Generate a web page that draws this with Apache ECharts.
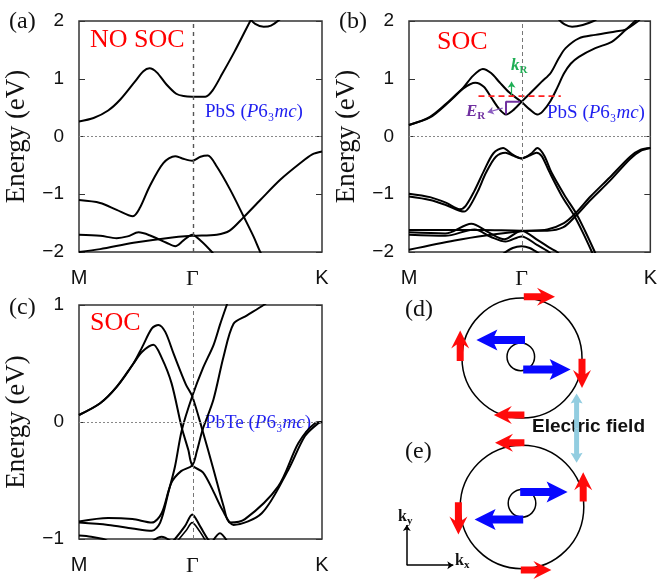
<!DOCTYPE html>
<html lang="en">
<head>
	<meta charset="UTF-8">
	<title>PbS / PbTe bands</title>
	<script src="https://cdn.jsdelivr.net/npm/echarts/dist/echarts.min.js"></script>
	<style>
		html, body { margin: 0; padding: 0; background: #fff; }
	</style>
</head>
<body>
	<div id="bandChart" style="width: 660px; height: 579px;"></div>
	<script type="text/javascript">

		// k path: M - Gamma - K, Gamma sits at 7/15 of the path
		const kStep = 1 / 15;
		const kTicks = [0, 7 / 15, 1];
		const kLabels = ['M', 'Γ', 'K'];

		// (a) PbS, no SOC  [k, E(eV)]
		const a_cb1 = [[0,0.26],[0.06,0.32],[0.12,0.45],[0.17,0.64],[0.23,0.95],[0.265,1.13],[0.29,1.18],[0.32,1.11],[0.36,0.90],[0.40,0.74],[0.43,0.70],[0.466,0.69],[0.52,0.69],[0.55,0.80],[0.59,1.09],[0.64,1.47],[0.705,2.0],[0.72,2.1]];
		const a_cb2 = [[0.70,2.06],[0.725,1.95],[0.76,1.90],[0.79,1.92],[0.83,2.04]];
		const a_vb1 = [[0,-1.10],[0.087,-1.15],[0.155,-1.27],[0.222,-1.38],[0.25,-1.24],[0.29,-0.87],[0.347,-0.46],[0.396,-0.34],[0.425,-0.38],[0.466,-0.42],[0.50,-0.35],[0.53,-0.33],[0.567,-0.52],[0.622,-0.92],[0.677,-1.38],[0.718,-1.73],[0.746,-2.0],[0.76,-2.1]];
		const a_vb2 = [[0,-2.0],[0.087,-1.95],[0.224,-1.84],[0.36,-1.76],[0.466,-1.72],[0.567,-1.70],[0.62,-1.63],[0.677,-1.40],[0.746,-1.10],[0.828,-0.75],[0.911,-0.46],[0.96,-0.31],[1,-0.26]];
		const a_vb3 = [[0,-1.70],[0.087,-1.72],[0.155,-1.76],[0.20,-1.73],[0.245,-1.66],[0.29,-1.71],[0.36,-1.84],[0.396,-1.90],[0.43,-1.80],[0.466,-1.70],[0.50,-1.80],[0.547,-2.0],[0.56,-2.08]];

		// (b) PbS, SOC
		const b_cb1 = [[0,0.20],[0.087,0.33],[0.155,0.56],[0.224,0.84],[0.265,1.05],[0.306,1.17],[0.34,1.10],[0.375,0.94],[0.416,0.76],[0.466,0.60],[0.50,0.47],[0.532,0.38],[0.555,0.44],[0.587,0.62],[0.615,0.85],[0.642,1.09],[0.67,1.26],[0.704,1.38],[0.772,1.53],[0.84,1.64],[0.896,1.84],[0.937,2.0],[0.95,2.06]];
		const b_cb2 = [[0,0.20],[0.087,0.34],[0.155,0.57],[0.224,0.83],[0.275,0.93],[0.31,0.86],[0.34,0.68],[0.375,0.47],[0.402,0.38],[0.43,0.45],[0.466,0.60],[0.50,0.74],[0.55,0.95],[0.587,1.10],[0.62,1.35],[0.649,1.53],[0.704,1.70],[0.772,1.76],[0.855,1.82],[0.897,1.85],[0.95,2.0],[0.96,2.05]];
		const b_cb3 = [[0.62,2.03],[0.645,1.94],[0.676,1.90],[0.72,1.93],[0.765,2.0],[0.78,2.04]];
		const b_vb1 = [[0,-0.99],[0.087,-1.05],[0.155,-1.15],[0.21,-1.26],[0.235,-1.20],[0.27,-0.95],[0.31,-0.60],[0.35,-0.29],[0.39,-0.20],[0.425,-0.30],[0.466,-0.38],[0.505,-0.30],[0.532,-0.20],[0.56,-0.33],[0.59,-0.62],[0.645,-1.02],[0.694,-1.34],[0.73,-1.64],[0.77,-2.0],[0.78,-2.1]];
		const b_vb2 = [[0,-1.04],[0.087,-1.10],[0.155,-1.19],[0.228,-1.30],[0.25,-1.22],[0.285,-0.95],[0.32,-0.62],[0.36,-0.35],[0.40,-0.28],[0.43,-0.33],[0.466,-0.38],[0.50,-0.33],[0.528,-0.28],[0.55,-0.34],[0.58,-0.60],[0.632,-1.02],[0.683,-1.36],[0.72,-1.66],[0.758,-2.0],[0.768,-2.1]];
		const b_vb3 = [[0,-1.96],[0.189,-1.80],[0.326,-1.71],[0.466,-1.64],[0.573,-1.61],[0.642,-1.50],[0.69,-1.33],[0.752,-1.04],[0.834,-0.70],[0.916,-0.35],[0.96,-0.23],[1,-0.20]];
		const b_vb4 = [[0,-1.62],[0.15,-1.62],[0.30,-1.62],[0.466,-1.63],[0.573,-1.63],[0.64,-1.57],[0.69,-1.38],[0.752,-1.10],[0.834,-0.76],[0.916,-0.39],[0.96,-0.25],[1,-0.20]];
		const b_vb5 = [[0,-1.66],[0.15,-1.68],[0.258,-1.51],[0.33,-1.66],[0.395,-1.78],[0.466,-1.63],[0.532,-1.79],[0.58,-1.92],[0.614,-2.0],[0.625,-2.05]];
		const b_vb6 = [[0,-1.70],[0.15,-1.72],[0.272,-1.61],[0.34,-1.74],[0.40,-1.82],[0.466,-1.73],[0.532,-1.88],[0.58,-2.0],[0.59,-2.05]];
		const b_vb7 = [[0.39,-2.03],[0.43,-1.93],[0.466,-1.90],[0.50,-1.93],[0.54,-2.03]];

		// (b) Rashba marks
		const b_fermiCut = [[0.288,0.70],[0.629,0.70]];
		const b_kR = [[0.425,0.72],[0.425,0.95]];
		const b_bracket = [[0.402,0.38],[0.402,0.60],[0.46,0.60]];
		const b_eR = [[0.388,0.49],[0.326,0.42]];

		// (c) PbTe, SOC
		const c_cb1 = [[0,0.06],[0.087,0.16],[0.155,0.30],[0.224,0.50],[0.26,0.64],[0.30,0.80],[0.327,0.83],[0.355,0.77],[0.39,0.58],[0.44,0.32],[0.466,0.22],[0.508,-0.07],[0.554,-0.41],[0.595,-0.72],[0.621,-0.86],[0.683,-0.83],[0.82,-0.55],[0.903,-0.18],[0.971,-0.01],[1,0]];
		const c_cb2 = [[0,0.06],[0.087,0.16],[0.155,0.30],[0.224,0.50],[0.26,0.60],[0.306,0.66],[0.34,0.55],[0.381,0.33],[0.423,-0.05],[0.45,-0.24],[0.466,-0.37],[0.51,-0.43],[0.55,-0.58],[0.59,-0.75],[0.636,-0.88],[0.752,-0.78],[0.861,-0.41],[0.93,-0.12],[0.985,-0.01],[1,0]];
		const c_vb1 = [[0,-0.86],[0.12,-0.88],[0.22,-0.91],[0.30,-0.93],[0.334,-0.86],[0.368,-0.60],[0.395,-0.38],[0.423,-0.07],[0.466,0.22],[0.51,0.46],[0.554,0.66],[0.58,0.83],[0.608,1.0],[0.62,1.07]];
		const c_vb2 = [[0,-0.85],[0.12,-0.82],[0.22,-0.83],[0.30,-0.86],[0.34,-0.78],[0.38,-0.52],[0.42,-0.42],[0.466,-0.37],[0.485,-0.25],[0.508,-0.07],[0.553,0.19],[0.595,0.56],[0.636,0.84],[0.69,0.91],[0.76,1.0],[0.78,1.03]];
		const c_vb3 = [[0.38,-1.03],[0.395,-1.0],[0.436,-0.89],[0.466,-0.79],[0.498,-0.89],[0.53,-1.0],[0.545,-1.03]];
		const c_vb4 = [[0.40,-1.03],[0.44,-0.93],[0.466,-0.86],[0.495,-0.93],[0.525,-1.03]];
		const c_vb5 = [[0,-0.97],[0.05,-0.98],[0.10,-1.0],[0.12,-1.02]];
		const c_vb6 = [[0.30,-1.02],[0.34,-0.98],[0.38,-1.02]];
		const c_vb7 = [[0.55,-1.02],[0.58,-0.95],[0.61,-1.02]];

		// (d)/(e) spin textures, circle radius = 1  [x, y, r]
		const contours = [[0,0,1.0],[0,-2.48,1.03],[-0.02,0.02,0.23],[0,-2.42,0.23]];
		// arrows [x tail, y tail, x tip, y tip]
		const outerSpins = [
			[0.03,1.02,0.55,1.02],[1.0,-0.01,1.0,-0.50],[0.04,-0.95,-0.47,-0.95],[-1.03,-0.05,-1.03,0.46],
			[0.04,-1.41,-0.45,-1.41],[1.02,-2.39,1.02,-1.90],[-1.06,-2.40,-1.06,-2.94],[-0.02,-3.53,0.49,-3.53]
		];
		const innerSpins = [
			[0.05,0.30,-0.76,0.30],[0.02,-0.19,0.81,-0.19],
			[-0.03,-2.23,0.76,-2.23],[0.02,-2.69,-0.79,-2.69]
		];
		const fieldArrow = [[0.91,-1.17,0.91,-0.59],[0.91,-1.17,0.91,-1.745]];
		const kFrame = [[[-1.92,-3.45],[-1.92,-2.78]],[[-1.92,-3.45],[-1.145,-3.45]]];

		const chart = echarts.init(document.getElementById('bandChart'));

		const serif = 'Liberation Serif';
		const sans = 'Liberation Sans';

		function kLabel(v) {
			for (let i = 0; i < kTicks.length; i++) {
				if (Math.abs(v - kTicks[i]) < 1e-3) return i === 1 ? '{g|Γ}' : kLabels[i];
			}
			return '';
		}
		function bandAxisX(i) {
			return {
				type: 'value', gridIndex: i, min: 0, max: 1, interval: kStep,
				axisLine: { show: false, onZero: false }, axisTick: { show: false }, splitLine: { show: false },
				axisLabel: {
					show: true, margin: 16, interval: 0, hideOverlap: false,
					fontFamily: sans, fontSize: 20, color: '#111',
					formatter: kLabel,
					rich: { g: { fontFamily: serif, fontSize: 22, color: '#111' } }
				}
			};
		}
		function bandAxisY(i, lo, hi, side) {
			const left = side === 'left';
			return {
				type: 'value', gridIndex: i, min: lo, max: hi, interval: 1, position: side,
				name: left ? 'Energy (eV)' : '', nameLocation: 'middle', nameGap: 49, nameRotate: 90,
				nameTextStyle: { fontFamily: serif, fontSize: 27, color: '#111' },
				axisLine: { show: false, onZero: false },
				axisTick: { show: true, inside: true, length: 6, lineStyle: { color: '#333', width: 1 } },
				splitLine: { show: false },
				axisLabel: {
					show: left, margin: 15, fontFamily: sans, fontSize: 19, color: '#111',
					formatter: v => String(v).replace('-', '−')
				}
			};
		}
		function band(data, g, w) {
			return {
				type: 'line', xAxisIndex: g, yAxisIndex: g * 2, data: data,
				showSymbol: false, smooth: 0.3, silent: true, clip: true,
				lineStyle: { color: '#000', width: w || 2 }, z: 3
			};
		}
		function guides(g, dark) {
			return {
				type: 'line', xAxisIndex: g, yAxisIndex: g * 2, data: [], silent: true,
				markLine: {
					silent: true, symbol: 'none', label: { show: false },
					data: [
						{ xAxis: kTicks[1], lineStyle: { color: dark ? '#555' : '#777', width: dark ? 1.4 : 1, type: dark ? [4, 4] : [4, 3] } },
						{ yAxis: 0, lineStyle: { color: '#888', width: 1, type: [2, 2] } }
					]
				}
			};
		}
		function poly(p0, p1, w, hw, hl, notch) {
			const dx = p1[0] - p0[0], dy = p1[1] - p0[1];
			const L = Math.hypot(dx, dy), ux = dx / L, uy = dy / L, nx = -uy, ny = ux;
			const bx = p1[0] - ux * hl, by = p1[1] - uy * hl;
			const cx = bx - ux * notch, cy = by - uy * notch;
			return [
				[p0[0] + nx * w / 2, p0[1] + ny * w / 2], [bx + nx * w / 2, by + ny * w / 2],
				[cx + nx * hw / 2, cy + ny * hw / 2], [p1[0], p1[1]],
				[cx - nx * hw / 2, cy - ny * hw / 2], [bx - nx * w / 2, by - ny * w / 2],
				[p0[0] - nx * w / 2, p0[1] - ny * w / 2]
			];
		}
		function arrows(data, color, w, hw, hl, notch) {
			return {
				type: 'custom', xAxisIndex: 3, yAxisIndex: 6, data: data, silent: true, z: 5,
				encode: { x: [0, 2], y: [1, 3] },
				renderItem: (params, api) => {
					const p0 = api.coord([api.value(0), api.value(1)]);
					const p1 = api.coord([api.value(2), api.value(3)]);
					return { type: 'polygon', shape: { points: poly(p0, p1, w, hw, hl, notch) }, style: { fill: color } };
				}
			};
		}
		function formula(x, y, name) {
			return {
				type: 'text', x: x, y: y,
				style: {
					text: '{n|' + name + ' (}{i|P}{n|6₃}{i|mc}{n|)}', textVerticalAlign: 'middle',
					rich: {
						n: { font: '19px "Liberation Serif"', fill: '#1f1fef' },
						i: { font: 'italic 19px "Liberation Serif"', fill: '#1f1fef' }
					}
				}
			};
		}
		function subLabel(x, y, main, sub, color, mainFont, subFont) {
			return {
				type: 'text', x: x, y: y,
				style: {
					text: '{k|' + main + '}{s|' + sub + '}', textVerticalAlign: 'middle',
					rich: {
						k: { font: mainFont, fill: color, lineHeight: 20 },
						s: { font: subFont, fill: color, verticalAlign: 'bottom', lineHeight: 13 }
					}
				}
			};
		}
		function tag(x, y, text, font, color) {
			return { type: 'text', x: x, y: y, style: { text: text, font: font, fill: color || '#111', textVerticalAlign: 'middle' } };
		}

		const option = {
			animation: false,
			backgroundColor: '#fff',
			grid: [
				{ left: 79, top: 21, width: 243, height: 231, show: true, borderColor: '#333', borderWidth: 1.5, backgroundColor: 'transparent' },
				{ left: 409, top: 21, width: 243, height: 231, show: true, borderColor: '#333', borderWidth: 1.5, backgroundColor: 'transparent' },
				{ left: 79, top: 305, width: 243, height: 234, show: true, borderColor: '#333', borderWidth: 1.5, backgroundColor: 'transparent' },
				{ left: 390, top: 280, width: 270, height: 299 }
			],
			xAxis: [
				bandAxisX(0), bandAxisX(1), bandAxisX(2),
				{ type: 'value', gridIndex: 3, min: -2.2, max: 2.3, show: false }
			],
			yAxis: [
				bandAxisY(0, -2, 2, 'left'), bandAxisY(0, -2, 2, 'right'),
				bandAxisY(1, -2, 2, 'left'), bandAxisY(1, -2, 2, 'right'),
				bandAxisY(2, -1, 1, 'left'), bandAxisY(2, -1, 1, 'right'),
				{ type: 'value', gridIndex: 3, min: -3.68, max: 1.3, show: false }
			],
			series: [
				guides(0, true), guides(1, false), guides(2, false),
				band(a_cb1, 0), band(a_cb2, 0), band(a_vb1, 0), band(a_vb2, 0), band(a_vb3, 0),
				band(b_cb1, 1), band(b_cb2, 1), band(b_cb3, 1), band(b_vb1, 1), band(b_vb2, 1),
				band(b_vb3, 1), band(b_vb4, 1), band(b_vb5, 1), band(b_vb6, 1), band(b_vb7, 1),
				band(c_cb1, 2), band(c_cb2, 2), band(c_vb1, 2), band(c_vb2, 2),
				band(c_vb3, 2), band(c_vb4, 2, 1.6), band(c_vb5, 2), band(c_vb6, 2), band(c_vb7, 2),
				{
					type: 'line', xAxisIndex: 1, yAxisIndex: 2, data: b_fermiCut, showSymbol: false, silent: true, z: 4,
					lineStyle: { color: '#ff2020', width: 1.6, type: [6, 4] }
				},
				{
					type: 'line', xAxisIndex: 1, yAxisIndex: 2, data: b_bracket, showSymbol: false, silent: true, z: 4,
					lineStyle: { color: '#7030a0', width: 2 }
				},
				{
					type: 'lines', coordinateSystem: 'cartesian2d', xAxisIndex: 1, yAxisIndex: 2, silent: true, z: 4,
					symbol: ['none', 'arrow'], symbolSize: 6,
					data: [{ coords: b_kR, lineStyle: { color: '#1fae55' } }, { coords: b_eR, lineStyle: { color: '#8a5cc0' } }],
					lineStyle: { width: 1.2, opacity: 1 }
				},
				{
					type: 'custom', xAxisIndex: 3, yAxisIndex: 6, data: contours, silent: true, z: 4,
					encode: { x: 0, y: 1 },
					renderItem: (params, api) => {
						const c = api.coord([api.value(0), api.value(1)]);
						const r = api.size([api.value(2), 0])[0];
						return { type: 'circle', shape: { cx: c[0], cy: c[1], r: r }, style: { fill: 'none', stroke: '#000', lineWidth: 1.5 } };
					}
				},
				arrows(outerSpins, '#ff0a0a', 7, 18, 14, 4),
				arrows(innerSpins, '#0808ff', 8, 21, 18, 3),
				arrows(fieldArrow, '#92cde0', 5, 12, 9, 1),
				{
					type: 'lines', coordinateSystem: 'cartesian2d', xAxisIndex: 3, yAxisIndex: 6, silent: true, z: 4,
					symbol: ['none', 'arrow'], symbolSize: 6,
					data: kFrame.map(c => ({ coords: c })),
					lineStyle: { color: '#000', width: 1.5, opacity: 1 }
				}
			],
			graphic: [
				tag(9, 22, '(a)', '24px "Liberation Serif"'),
				tag(339, 22, '(b)', '24px "Liberation Serif"'),
				tag(9, 308, '(c)', '24px "Liberation Serif"'),
				tag(405, 310, '(d)', '24px "Liberation Serif"'),
				tag(405, 452, '(e)', '24px "Liberation Serif"'),
				tag(90, 40, 'NO SOC', '26px "Liberation Serif"', '#ff0000'),
				tag(437, 42, 'SOC', '26px "Liberation Serif"', '#ff0000'),
				tag(90, 323, 'SOC', '26px "Liberation Serif"', '#ff0000'),
				formula(205, 112, 'PbS'),
				formula(547, 113, 'PbS'),
				formula(205, 423, 'PbTe'),
				subLabel(511, 66, 'k', 'R', '#1fae55', 'italic bold 17px "Liberation Serif"', 'bold 11px "Liberation Serif"'),
				subLabel(466, 112, 'E', 'R', '#7030a0', 'italic bold 17px "Liberation Serif"', 'bold 11px "Liberation Serif"'),
				tag(532, 427, 'Electric field', 'bold 19px "Liberation Sans"'),
				subLabel(398, 517, 'k', 'y', '#111', 'bold 16px "Liberation Serif"', 'bold 11px "Liberation Serif"'),
				subLabel(455, 561, 'k', 'x', '#111', 'bold 16px "Liberation Serif"', 'bold 11px "Liberation Serif"')
			]
		};

		chart.setOption(option);
	</script>
</body>
</html>
